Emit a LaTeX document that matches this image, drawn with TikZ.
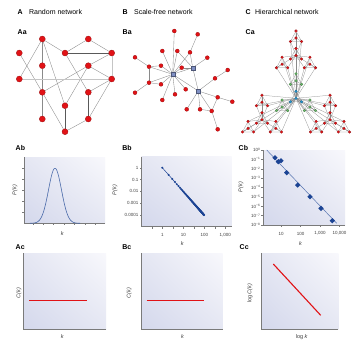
\documentclass[tikz,border=0pt]{standalone}
\usepackage{fontspec}
\setmainfont{Liberation Sans}
\usepackage{tikz}
\usetikzlibrary{positioning, calc, shadings}
\pgfdeclarelayer{bg}
\pgfsetlayers{bg,main}
\definecolor{netred}{RGB}{225,18,22}
\definecolor{hubblue}{RGB}{128,144,196}
\definecolor{hgreen}{RGB}{104,186,104}
\definecolor{hblue}{RGB}{34,150,210}
\definecolor{edgegray}{RGB}{138,138,138}
\definecolor{plotlo}{RGB}{212,216,236}
\definecolor{plotmid}{RGB}{229,231,243}
\definecolor{plothi}{RGB}{248,248,252}
\definecolor{axisgray}{RGB}{122,122,122}
\definecolor{datablue}{RGB}{28,68,148}

\begin{document}
\begin{tikzpicture}[x=1pt, y=-1pt,
    headline/.style={anchor=west, inner sep=0.5pt, font=\fontsize{7}{8}\selectfont},
    panel/.style={anchor=west, inner sep=0.5pt, font=\fontsize{7}{8}\selectfont\bfseries},
    rnode/.style={circle, fill=netred, draw=netred!70!black, line width=0.3pt, inner sep=0pt, minimum size=6pt},
    snode/.style={circle, fill=netred, draw=netred!70!black, line width=0.3pt, inner sep=0pt, minimum size=4pt},
    hub/.style={rectangle, fill=hubblue, draw=hubblue!60!black, line width=0.3pt, inner sep=0pt, minimum size=4pt},
    hdot/.style={circle, line width=0.2pt, inner sep=0pt, minimum size=2.8pt},
    link/.style={draw=edgegray, line width=0.35pt},
    hlink/.style={draw=edgegray, line width=0.25pt},
    plotaxis/.style={draw=axisgray, line width=1pt},
    axtick/.style={draw=axisgray, line width=0.4pt},
    ticklabel/.style={font=\fontsize{4.5}{5}\selectfont, text=black!75, inner sep=1pt},
    axlabel/.style={font=\fontsize{5.5}{6}\selectfont, text=black!75, inner sep=0.5pt},
    redline/.style={draw=netred, line width=1.1pt},
]
\useasboundingbox (0,0) rectangle (361,349);
\begin{pgfonlayer}{bg}
\fill[white] (0,0) rectangle (361,349);
\end{pgfonlayer}

\node[panel] (ttlA) at (17,12) {A};
\node[headline, right=5pt of ttlA] (ttlAtext) {Random network};
\node[panel] (ttlB) at (122,12) {B};
\node[headline, right=5pt of ttlB] (ttlBtext) {Scale-free network};
\node[panel] (ttlC) at (245,12) {C};
\node[headline, right=3pt of ttlC] (ttlCtext) {Hierarchical network};
\node[panel] (pAa) at (17,32) {Aa};
\node[panel] (pBa) at (122,32) {Ba};
\node[panel] (pCa) at (245,32) {Ca};
\node[panel] (pAb) at (15,148.3) {Ab};
\node[panel] (pBb) at (121.7,148.3) {Bb};
\node[panel] (pCb) at (238,148.3) {Cb};
\node[panel] (pAc) at (15,246.7) {Ac};
\node[panel] (pBc) at (121.7,246.7) {Bc};
\node[panel] (pCc) at (239,246.7) {Cc};

\foreach \i/\px/\py in {1/42.3/39, 2/88.3/39, 3/19.3/53, 4/65/53, 5/111.7/53, 6/42.3/65.7, 7/88.3/65.7, 8/19.3/79, 9/111.7/79, 10/42.3/92.3, 11/88.3/92.3, 12/65/105.7, 13/42.3/119, 14/88.3/119, 15/65/131.7}
  \node[rnode] (r\i) at (\px,\py) {};

\node[hub] (hubA) at (172.7,74.3) {};
\node[hub] (hubB) at (192.7,67.7) {};
\node[hub] (hubC) at (198.3,91) {};
\foreach \i/\px/\py in {1/174.3/31, 2/197.7/34.3, 3/162.3/51, 4/177.3/51, 5/190/52.3, 6/207.3/57.7, 7/135/57.3, 8/149/66.7, 9/161/65.7, 10/181.7/67.7, 11/149/82.7, 12/161/84.3, 13/135/92.7, 14/175/94.3, 15/162.3/100, 16/185.7/89.3, 17/215/78.3, 18/227.7/70, 19/217.7/97.3, 20/232.3/101.7, 21/186.7/109.3, 22/200/109.3, 23/211.7/111, 24/217.7/129.3}
  \node[snode] (s\i) at (\px,\py) {};

\def\hdx{{0,0,-0.795,0.795}}
\def\hdy{{0,-1,0.5,0.5}}
\foreach \g in {0,...,3}
  \foreach \m in {0,...,3}
    \foreach \n in {0,...,3} {
      \pgfmathsetmacro\hx{296+42.8*\hdx[\g]+17.5*\hdx[\m]+7*\hdx[\n]}
      \pgfmathsetmacro\hy{98.3+42.8*\hdy[\g]+17.5*\hdy[\m]+7*\hdy[\n]}
      \ifnum\g=0 \ifnum\m=0 \def\hcol{hblue}\else\def\hcol{hgreen}\fi\else\def\hcol{netred}\fi
      \node[hdot, fill=\hcol, draw=\hcol!60!black] (c\g\m\n) at (\hx,\hy) {};
    }

\begin{pgfonlayer}{bg}
\foreach \a/\b in {1/4, 1/6, 1/8, 1/12, 2/4, 2/5, 3/10, 4/11, 5/7, 6/10, 7/10, 7/9, 7/12, 9/11, 9/14, 10/13, 10/15, 14/15}
  \draw[link] (r\a) -- (r\b);
\foreach \a/\b in {4/5, 11/14, 12/15}
  \draw[link, draw=black!65, line width=0.55pt] (r\a) -- (r\b);
\foreach \a/\b in {8/9, 5/9}
  \draw[link, draw=edgegray!50] (r\a) -- (r\b);

\foreach \a/\b in {hubA/hubB, hubA/hubC, hubB/hubC, hubA/s1, hubA/s3, hubA/s4, hubA/s5, hubA/s8, hubA/s9, hubA/s10, hubA/s11, hubA/s12, hubA/s14, hubA/s15, hubA/s16, hubB/s4, hubB/s5, hubB/s6, hubB/s10, hubC/s17, hubC/s19, hubC/s21, hubC/s22, hubC/s23, s2/s5, s7/s8, s8/s9, s8/s11, s11/s12, s11/s13, s17/s18, s19/s20, s19/s23, s22/s23, s23/s24}
  \draw[link] (\a) -- (\b);

\foreach \g in {0,...,3}
  \foreach \m in {0,...,3}
    \draw[hlink] (c\g\m0) -- (c\g\m1) -- (c\g\m2) -- (c\g\m0) -- (c\g\m3) -- (c\g\m1) (c\g\m2) -- (c\g\m3);
\foreach \g in {0,...,3}
  \foreach \m in {1,2,3}
    \foreach \n in {1,2,3}
      \draw[hlink] (c\g\m\n) -- (c\g00);
\foreach \g in {1,2,3}
  \foreach \m in {1,2,3}
    \foreach \n in {1,2,3}
      \draw[hlink] (c\g\m\n) -- (c000);
\end{pgfonlayer}

\foreach \xa/\ya/\xb/\yb in {24/157/105/223.3, 141.7/156.7/231.7/226.7, 263/150/345/225, 23.3/253.3/106/329.3, 141.7/253.3/222.7/329.3, 261.7/253.3/338.3/329.3} {
  \shade[lower left=plotlo, upper right=plothi, upper left=plotmid, lower right=plotmid] (\xa,\ya) rectangle (\xb,\yb);
  \draw[plotaxis] (\xa,\ya) -- (\xa,\yb) -- (\xb,\yb);
}

\foreach \t in {168.3,179,190,201,212.3}
  \draw[axtick] (24,\t) -- ++(-2,0);
\foreach \t in {0,...,6}
  \draw[axtick] ({32.7+10.4*\t},223.3) -- ++(0,2);
\draw[datablue!80, line width=0.6pt] plot[domain=30:80, samples=100] (\x, {223.3-55*exp(((\x-55)^2)/(-84.5))});
\node[axlabel, rotate=90] (abpk) at (15,190) {\textit{P(k)}};
\node[axlabel] (abk) at (62.3,233.3) {\textit{k}};

\foreach \t/\lab [count=\i] in {167.7/1, 179.5/0.1, 191.3/0.01, 203/0.001, 214.8/0.0001}
  \draw[axtick] (141.7,\t) -- ++(-2,0) node[ticklabel, anchor=east] (bby\i) {\lab};
\foreach \t in {0,...,7}
  \draw[axtick] ({151.8+10.5*\t},226.7) -- ++(0,2);
\foreach \t/\lab [count=\i] in {162.3/1, 183.3/10, 204.3/100, 225.3/{1,000}}
  \node[ticklabel] (bbx\i) at (\t,235) {\lab};
\draw[datablue, line width=0.5pt] (162.3,167.7) -- (204,215);
\foreach \k in {1,...,100} {
  \pgfmathsetmacro\mx{162.3+20.85*log10(\k)}
  \pgfmathsetmacro\my{167.7+23.65*log10(\k)}
  \fill[datablue] (\mx,\my) +(0,-1.1) -- +(1.1,0) -- +(0,1.1) -- +(-1.1,0) -- cycle;
}
\node[axlabel, rotate=90] (bbpk) at (115,190) {\textit{P(k)}};
\node[axlabel] (bbk) at (182.3,243.3) {\textit{k}};

\foreach \e in {0,...,8}
  \draw[axtick] (263,{150+9.375*\e}) -- ++(-2,0) node[ticklabel, anchor=east] (cby\e) {10\raisebox{1.4pt}{\fontsize{3.2}{3.5}\selectfont\ifnum\e=0 0\else −\e\fi}};
\foreach \t/\lab [count=\i] in {281/10, 300.5/100, 320/{1,000}, 339.5/{10,000}} {
  \draw[axtick] (\t,225) -- ++(0,2);
  \node[ticklabel] (cbx\i) at (\t,233.5) {\lab};
}
\draw[datablue!75, line width=0.5pt] (266.7,150) -- (336.7,223.3);
\foreach \px/\py in {275/157.7, 278.3/161.7, 281/160.7, 286.7/172.7, 297.7/185, 310/196.7, 321/208.3, 332.3/220.7}
  \fill[datablue] (\px,\py) +(0,-2.7) -- +(2.7,0) -- +(0,2.7) -- +(-2.7,0) -- cycle;
\node[axlabel, rotate=90] (cbpk) at (241,187) {\textit{P(k)}};
\node[axlabel] (cbk) at (300.7,243.3) {\textit{k}};

\draw[redline] (29.3,300.3) -- (87.3,300.3);
\node[axlabel, rotate=90] (acck) at (19,293.3) {\textit{C(k)}};
\node[axlabel] (ack) at (62.3,336.7) {\textit{k}};
\draw[redline] (146.7,300.3) -- (204,300.3);
\node[axlabel, rotate=90] (bcck) at (129.3,293.3) {\textit{C(k)}};
\node[axlabel] (bck) at (182.7,336.7) {\textit{k}};
\draw[redline] (273.3,264) -- (320.7,315.3);
\node[axlabel, rotate=90] (ccck) at (250,293.3) {log \textit{C(k)}};
\node[axlabel] (cck) at (301.7,336.7) {log \textit{k}};
\end{tikzpicture}
\end{document}
